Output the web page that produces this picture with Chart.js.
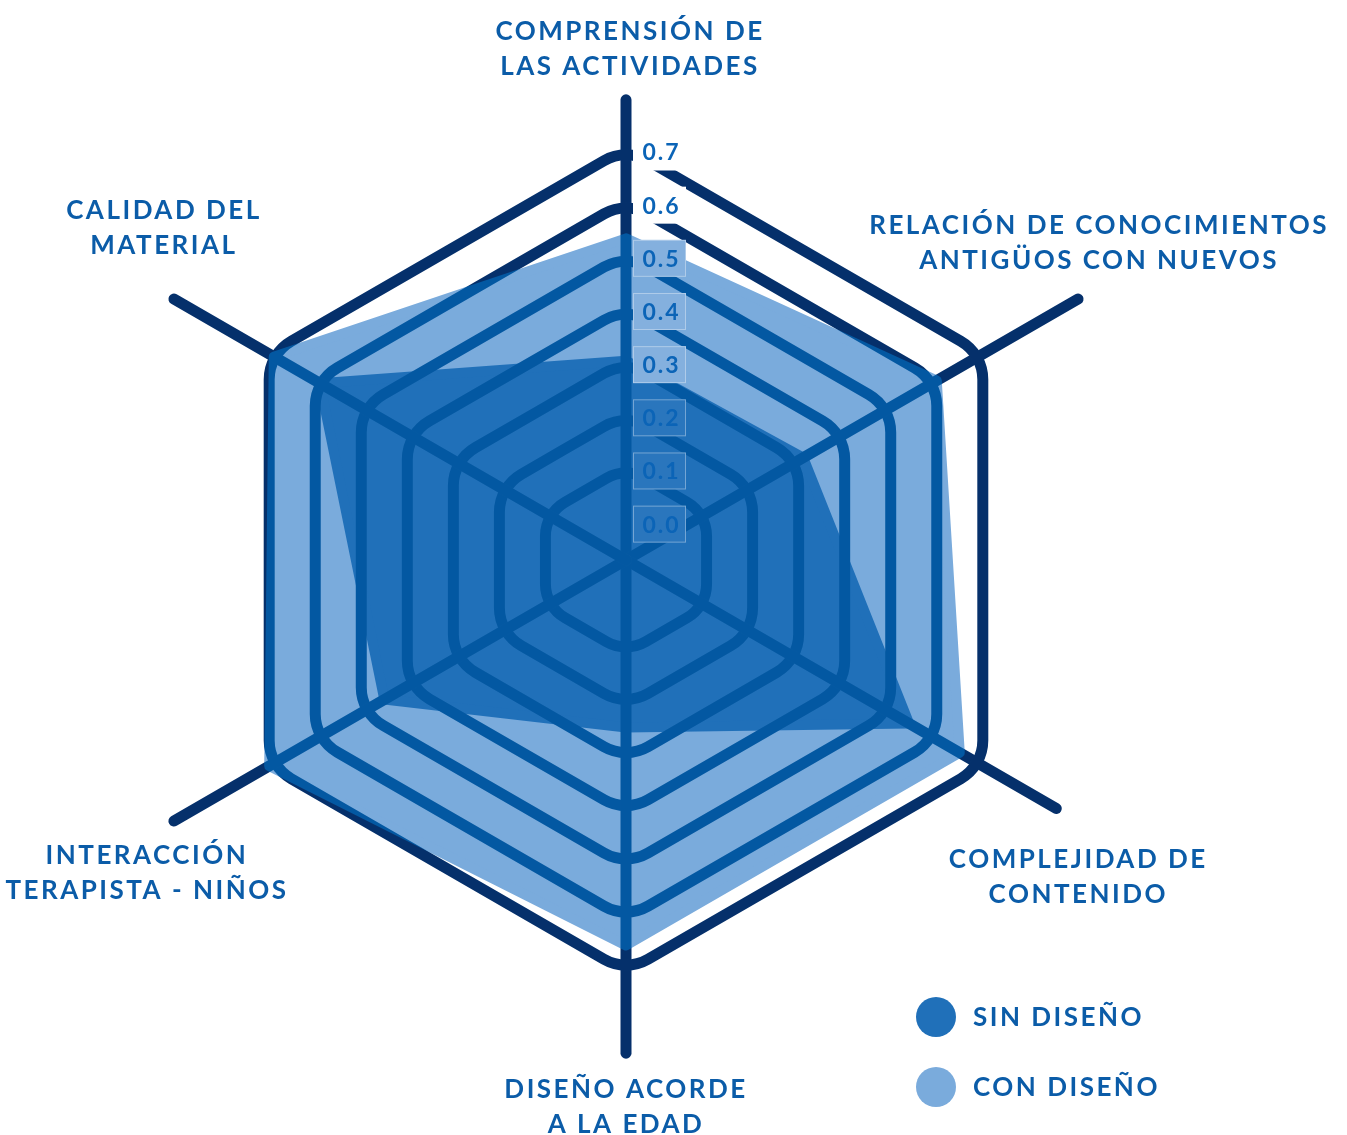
<!DOCTYPE html>
<html>
<head>
<meta charset="utf-8">
<script src="https://cdn.jsdelivr.net/npm/chart.js@4.4.1/dist/chart.umd.min.js"></script>
<style>
  html, body { margin: 0; padding: 0; background: #fff; }
  #wrap { width: 1347px; height: 1135px; position: relative; }
</style>
</head>
<body>
<div id="wrap"><canvas id="radar"></canvas></div>
<script>
// chart data
var categories = [
  ['COMPRENSIÓN DE', 'LAS ACTIVIDADES'],
  ['RELACIÓN DE CONOCIMIENTOS', 'ANTIGÜOS CON NUEVOS'],
  ['COMPLEJIDAD DE', 'CONTENIDO'],
  ['DISEÑO ACORDE', 'A LA EDAD'],
  ['INTERACCIÓN', 'TERAPISTA - NIÑOS'],
  ['CALIDAD DEL', 'MATERIAL']
];
var seriesNames = ['SIN DISEÑO', 'CON DISEÑO'];
var sinDiseno = [0.30, 0.31, 0.54, 0.24, 0.45, 0.59];
var conDiseno = [0.53, 0.60, 0.65, 0.65, 0.70, 0.69];
var tickValues = [0.0, 0.1, 0.2, 0.3, 0.4, 0.5, 0.6, 0.7];

// styles
var NAVY = '#05306b';
var RING_IN = '#0358a2';
var SIN_COLOR = '#2070b9';
var CON_COLOR = '#7aabdc';
var LABEL_COLOR = '#0b5ca8';
var TICK_COLOR = '#0b64b7';
var LINE_W = 11;
var CORNER = 44;
var spokeReach = [1.117, 1.267, 1.206, 1.197, 1.267, 1.267];
var labelShift = [[4, -51], [21, -56], [22, 69], [0, 54], [-27, 52], [-10, -71]];

function webPath(ctx, scale, radius){
  var n = categories.length, pts = [], i;
  for (i = 0; i < n; i++) pts.push(scale.getPointPosition(i, radius));
  var corner = Math.min(CORNER, radius * 0.42);
  ctx.beginPath();
  ctx.moveTo((pts[n - 1].x + pts[0].x) / 2, (pts[n - 1].y + pts[0].y) / 2);
  for (i = 0; i < n; i++) {
    var a = pts[i], b = pts[(i + 1) % n];
    ctx.arcTo(a.x, a.y, (a.x + b.x) / 2, (a.y + b.y) / 2, corner);
  }
  ctx.closePath();
}

function drawWeb(ctx, scale, color){
  ctx.strokeStyle = color;
  ctx.lineWidth = LINE_W;
  ctx.lineCap = 'round';
  ctx.lineJoin = 'round';
  tickValues.forEach(function(v){
    if (v <= 0) return;
    webPath(ctx, scale, scale.getDistanceFromCenterForValue(v));
    ctx.stroke();
  });
  for (var i = 0; i < categories.length; i++) {
    var end = scale.getPointPosition(i, scale.drawingArea * spokeReach[i]);
    ctx.beginPath();
    ctx.moveTo(scale.xCenter, scale.yCenter);
    ctx.lineTo(end.x, end.y);
    ctx.stroke();
  }
}

function shapeOf(chart, di){
  var p = new Path2D();
  chart.getDatasetMeta(di).data.forEach(function(pt, k){
    if (k) p.lineTo(pt.x, pt.y); else p.moveTo(pt.x, pt.y);
  });
  p.closePath();
  return p;
}

var webPlugin = {
  id: 'web',
  afterDatasetsDraw: function(chart){
    var ctx = chart.ctx, scale = chart.scales.r;
    ctx.save();
    // rings over the filled areas
    ctx.globalCompositeOperation = 'source-atop';
    drawWeb(ctx, scale, RING_IN);
    // rings on the empty background
    ctx.globalCompositeOperation = 'destination-over';
    drawWeb(ctx, scale, NAVY);
    ctx.restore();

    // tick labels
    var sinShape = shapeOf(chart, 0), conShape = shapeOf(chart, 1);
    ctx.save();
    ctx.font = 'bold 23px Lato';
    ctx.letterSpacing = '2px';
    ctx.textAlign = 'center';
    ctx.textBaseline = 'middle';
    tickValues.forEach(function(v){
      var cy = scale.yCenter - scale.getDistanceFromCenterForValue(v) + 4;
      var bx = scale.xCenter + 7, bw = 53, bh = 37;
      var cx = bx + bw / 2;
      var bg = '#ffffff';
      if (ctx.isPointInPath(sinShape, cx, cy)) bg = '#2a76bd';
      else if (ctx.isPointInPath(conShape, cx, cy)) bg = '#84b0de';
      ctx.fillStyle = bg;
      ctx.fillRect(bx, cy - bh / 2, bw, bh);
      if (bg !== '#ffffff') {
        ctx.strokeStyle = 'rgba(255,255,255,0.35)';
        ctx.lineWidth = 1;
        ctx.strokeRect(bx + 0.5, cy - bh / 2 + 0.5, bw - 1, bh - 1);
      }
      ctx.fillStyle = TICK_COLOR;
      ctx.fillText(v.toFixed(1), cx + 2, cy + 1);
    });
    ctx.restore();

    // axis labels
    ctx.save();
    ctx.font = 'bold 26px Lato';
    ctx.letterSpacing = '2.5px';
    ctx.textAlign = 'center';
    ctx.textBaseline = 'middle';
    ctx.fillStyle = LABEL_COLOR;
    categories.forEach(function(lines, i){
      var end = scale.getPointPosition(i, scale.drawingArea * spokeReach[i]);
      var x = end.x + labelShift[i][0], y = end.y + labelShift[i][1];
      var lh = 35;
      lines.forEach(function(t, k){
        ctx.fillText(t, x, y + (k - (lines.length - 1) / 2) * lh);
      });
    });

    // legend
    var lx = 936, ly = 1017;
    ctx.textAlign = 'left';
    chart.data.datasets.forEach(function(ds, k){
      var y = ly + k * 70;
      ctx.beginPath();
      ctx.arc(lx, y, 20, 0, Math.PI * 2);
      ctx.fillStyle = ds.backgroundColor;
      ctx.fill();
      ctx.fillStyle = LABEL_COLOR;
      ctx.fillText(ds.label, lx + 37, y + 1);
    });
    ctx.restore();
  }
};

new Chart(document.getElementById('radar'), {
  type: 'radar',
  data: {
    labels: categories,
    datasets: [
      {
        label: seriesNames[0],
        data: sinDiseno,
        backgroundColor: SIN_COLOR,
        borderColor: SIN_COLOR,
        borderWidth: 10,
        borderJoinStyle: 'round',
        fill: 'start',
        pointRadius: 0
      },
      {
        label: seriesNames[1],
        data: conDiseno,
        backgroundColor: CON_COLOR,
        borderColor: CON_COLOR,
        borderWidth: 10,
        borderJoinStyle: 'round',
        fill: 'start',
        pointRadius: 0
      }
    ]
  },
  options: {
    responsive: true,
    maintainAspectRatio: false,
    animation: false,
    layout: { padding: { top: 148, bottom: 163, left: 0, right: 95 } },
    plugins: {
      legend: { display: false },
      tooltip: { enabled: false }
    },
    scales: {
      r: {
        min: -0.075,
        max: 0.7,
        ticks: { display: false, stepSize: 0.1 },
        grid: { display: false },
        angleLines: { display: false },
        pointLabels: { display: false }
      }
    }
  },
  plugins: [webPlugin]
});
</script>
</body>
</html>
